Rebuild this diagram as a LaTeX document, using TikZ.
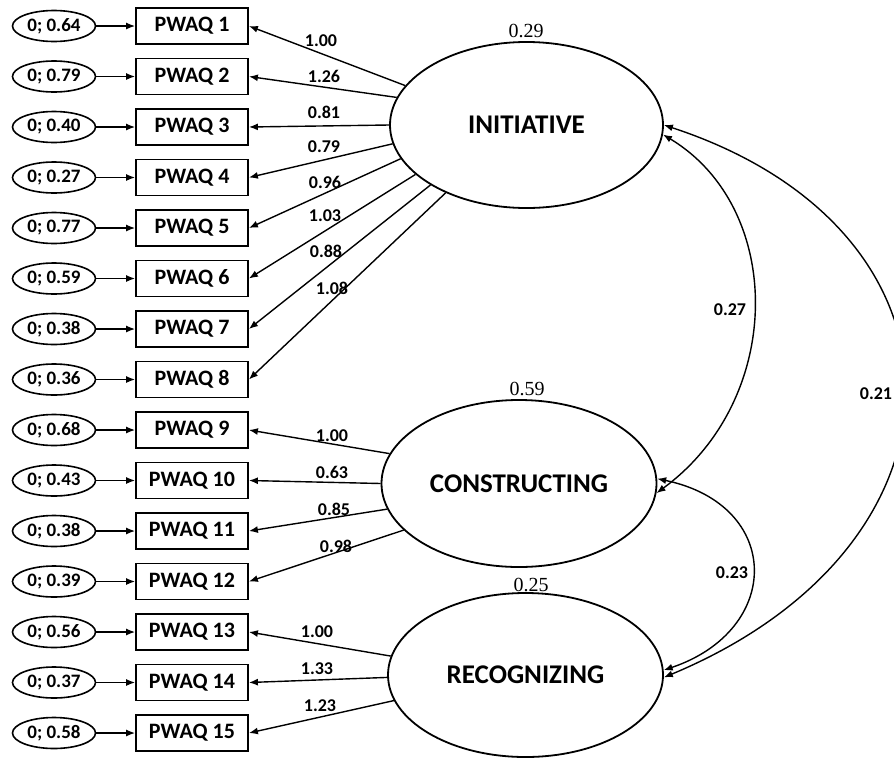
\documentclass[tikz,border=0pt]{standalone}
\usepackage{fontspec}
\setmainfont{Carlito}
\newfontfamily\serifnum{Liberation Serif}
\usetikzlibrary{arrows.meta,shapes.geometric}
\begin{document}
\begin{tikzpicture}[x=1pt,y=-1pt,
  obs/.style={draw,line width=1.8pt,minimum width=112pt,minimum height=36pt,inner sep=0pt,font=\fontsize{22}{22}\selectfont\bfseries},
  err/.style={ellipse,draw,line width=1.6pt,minimum width=83pt,minimum height=31pt,inner sep=0pt,font=\fontsize{19}{19}\selectfont\bfseries},
  lat/.style={ellipse,draw,line width=1.8pt,inner sep=0pt,font=\fontsize{27}{27}\selectfont\bfseries},
  arr/.style={line width=1.4pt,-{Latex[length=9pt,width=7pt]}},
  cov/.style={line width=1.4pt,{Latex[length=9pt,width=7pt]}-{Latex[length=9pt,width=7pt]}},
  lab/.style={font=\fontsize{18}{18}\selectfont\bfseries,inner sep=1pt},
  var/.style={font=\serifnum\fontsize{20}{20}\selectfont,inner sep=1pt}
]
\clip (0,0) rectangle (894,758);
\fill[white] (0,0) rectangle (894,758);

% observed variables and their errors
\foreach \i/\v in {1/0.64,2/0.79,3/0.40,4/0.27,5/0.77,6/0.59,7/0.38,8/0.36,9/0.68,10/0.43,11/0.38,12/0.39,13/0.56,14/0.37,15/0.58}{
  \node[obs] (p\i) at (192,{26+(\i-1)*50.5}) {PWAQ \i};
  \node[err] (e\i) at (54,{26+(\i-1)*50.5}) {0; \v};
  \draw[arr] (e\i) -- (p\i);
}

% latent variables
\node[lat,minimum width=273pt,minimum height=166pt] (ini) at (526.5,125) {INITIATIVE};
\node[lat,minimum width=275pt,minimum height=167pt] (con) at (519,483.5) {CONSTRUCTING};
\node[lat,minimum width=275pt,minimum height=164pt] (rec) at (525.5,675) {RECOGNIZING};

% variances
\node[var] (v1) at (526,31) {0.29};
\node[var] (v2) at (527,389) {0.59};
\node[var] (v3) at (531,585) {0.25};

% loadings INITIATIVE
\draw[arr] (ini.162) -- (p1.east);
\draw[arr] (ini.168) -- (p2.east);
\draw[arr] (ini.180) -- (p3.east);
\draw[arr] (ini.188) -- (p4.east);
\draw[arr] (ini.195) -- (p5.east);
\draw[arr] (ini.204) -- (p6.east);
\draw[arr] (ini.212) -- (p7.east);
\draw[arr] (ini.220) -- (p8.east);
\node[lab] (l1) at (321,41) {1.00};
\node[lab] (l2) at (324,76) {1.26};
\node[lab] (l3) at (324,112) {0.81};
\node[lab] (l4) at (324,147) {0.79};
\node[lab] (l5) at (325,182) {0.96};
\node[lab] (l6) at (325,216) {1.03};
\node[lab] (l7) at (326,251) {0.88};
\node[lab] (l8) at (332,288) {1.08};

% loadings CONSTRUCTING
\draw[arr] (con.167) -- (p9.east);
\draw[arr] (con.180) -- (p10.east);
\draw[arr] (con.191) -- (p11.east);
\draw[arr] (con.202) -- (p12.east);
\node[lab] (l9) at (332,436) {1.00};
\node[lab] (l10) at (332,472) {0.63};
\node[lab] (l11) at (334,509) {0.85};
\node[lab] (l12) at (336,546) {0.98};

% loadings RECOGNIZING
\draw[arr] (rec.172) -- (p13.east);
\draw[arr] (rec.181) -- (p14.east);
\draw[arr] (rec.191) -- (p15.east);
\node[lab] (l13) at (317,632) {1.00};
\node[lab] (l14) at (317,669) {1.33};
\node[lab] (l15) at (320,706) {1.23};

% covariances
\draw[cov] (ini.-4) .. controls (785,208) and (785,399) .. (con.-4);
\draw[cov] (ini.0) .. controls (984,230) and (984,544) .. (rec.-1);
\draw[cov] (con.2) .. controls (783,505) and (783,630) .. (rec.2);
\node[lab] (c1) at (730,310) {0.27};
\node[lab] (c2) at (732,573) {0.23};
\node[lab] (c3) at (876,394) {0.21};
\end{tikzpicture}
\end{document}
